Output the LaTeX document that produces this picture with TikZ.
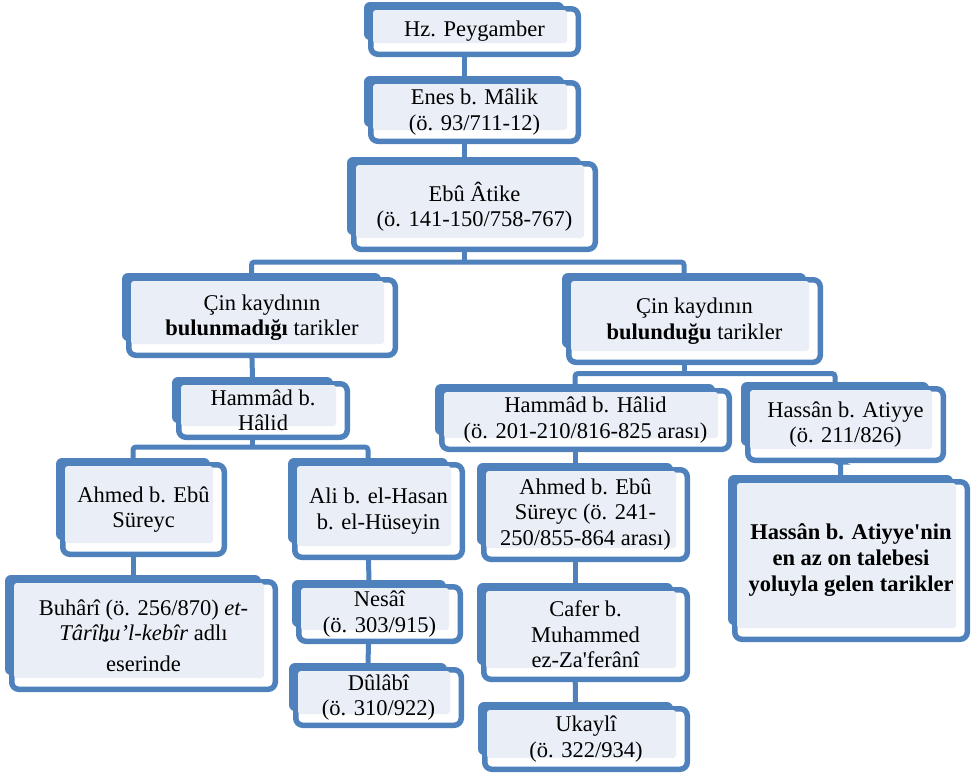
\documentclass[tikz,border=0pt]{standalone}
\usepackage{fontspec}
\setmainfont{Liberation Serif}
\usetikzlibrary{backgrounds,calc}
\definecolor{frameblue}{HTML}{4F81BD}
\definecolor{innerfill}{HTML}{EAEFF7}
\newcommand\hbrv{\ooalign{h\cr\hidewidth\raisebox{-0.62em}{\char"02D8}\hidewidth\cr}}
\tikzset{
  frameline/.style={draw=frameblue, line width=5.5pt, fill=white, rounded corners=7pt},
  backbox/.style={rectangle, fill=frameblue, rounded corners=6pt, inner sep=0pt, outer sep=0pt, draw=none},
  boxtext/.style={align=center, inner sep=0pt, font=\fontsize{22.5}{25.5}\selectfont},
  conn/.style={draw=frameblue, line width=5pt, rounded corners=3pt}
}
\newcommand\pbox[7][]{%
  \draw[frameline] (#3+6.75,#4+6.75) rectangle (#5-2.75,#6-2.75);
  \node[backbox, anchor=north west, minimum width={(#5-17-#3)*1pt}, minimum height={(#6-17-#4)*1pt}] (#2) at (#3,#4) {};
  \fill[innerfill, rounded corners=3pt] (#3+9,#4+8) rectangle (#5-14,#6-14);
  \node[boxtext,#1] (#2-t) at ({(#3+4+#5)/2},{(#4+4+#6)/2}) {#7};
}
\begin{document}
\begin{tikzpicture}[x=1pt,y=-1pt]
\useasboundingbox (0,0) rectangle (975,780);
\pbox{hz}{364}{2}{581}{57}{Hz. Peygamber}
\pbox{enes}{364}{76}{581}{144}{Enes b. Mâlik\\(ö. 93/711-12)}
\pbox{ebu}{347}{157}{598}{252}{Ebû Âtike\\(ö. 141-150/758-767)}
\pbox{c1}{122}{273}{398}{358}{Çin kaydının\\\textbf{bulunmadığı} tarikler}
\pbox{hamA}{172}{377}{350}{440}{Hammâd b.\\Hâlid}
\pbox{ahmedA}{56}{458}{227}{557}{Ahmed b. Ebû\\Süreyc}
\pbox{buhari}{5}{575}{278}{692}{Buhârî (ö. 256/870) \textit{et-}\\\textit{Târî\hbrv u’l-kebîr} adlı\\eserinde}
\pbox{ali}{288}{458}{465}{560}{Ali b. el-Hasan\\b. el-Hüseyin}
\pbox{nesai}{292}{580}{463}{644}{Nesâî\\(ö. 303/915)}
\pbox{dulabi}{289}{663}{464}{728}{Dûlâbî\\(ö. 310/922)}
\pbox{c2}{562}{273}{823}{365}{Çin kaydının\\\textbf{bulunduğu} tarikler}
\pbox{hamB}{435}{384}{732}{452}{Hammâd b. Hâlid\\(ö. 201-210/816-825 arası)}
\pbox{hassan}{741}{382}{946}{463}{Hassân b. Atiyye\\(ö. 211/826)}
\pbox{ahmedB}{477}{463}{690}{562}{Ahmed b. Ebû\\Süreyc (ö. 241-\\250/855-864 arası)}
\pbox{cafer}{477}{583}{690}{682}{Cafer b.\\Muhammed\\ez-Za\textquotesingle ferânî}
\pbox{ukayli}{478}{702}{690}{772}{Ukaylî\\(ö. 322/934)}
\pbox[font=\fontsize{22.5}{26}\selectfont\bfseries]{hassanB}{728}{475}{970}{642}{Hassân b. Atiyye\textquotesingle nin\\en az on talebesi\\yoluyla gelen tarikler}
\begin{scope}[on background layer]
  \coordinate (bus0) at (0,262);
  \coordinate (busL) at (0,447);
  \coordinate (busR) at (0,373.5);
  \coordinate (jog) at (0,462);
  \draw[conn] (hz.south) -- (enes.north);
  \draw[conn] (enes.south) -- (ebu.north);
  \draw[conn] (ebu.south) -- (ebu.south |- bus0);
  \draw[conn] (c1.north) -- (c1.north |- bus0) -- (c2.north |- bus0) -- (c2.north);
  \draw[conn] (c1.south) -- (hamA.north);
  \draw[conn] (hamA.south) -- (hamA.south |- busL);
  \draw[conn] (ahmedA.north) -- (ahmedA.north |- busL) -- (ali.north |- busL) -- (ali.north);
  \draw[conn] (ahmedA.south) -- (buhari.north);
  \draw[conn] (ali.south) -- (nesai.north);
  \draw[conn] (nesai.south) -- (dulabi.north);
  \draw[conn] (c2.south) -- (c2.south |- busR);
  \draw[conn] (hamB.north) -- (hamB.north |- busR) -- (hassan.north |- busR) -- (hassan.north);
  \draw[conn] (hamB.south) -- (ahmedB.north);
  \draw[conn] (ahmedB.south) -- (cafer.north);
  \draw[conn] (cafer.south) -- (ukayli.north);
  \draw[conn] (hassan.south) -- (hassan.south |- jog) -| (hassanB.north);
\end{scope}
\end{tikzpicture}
\end{document}
